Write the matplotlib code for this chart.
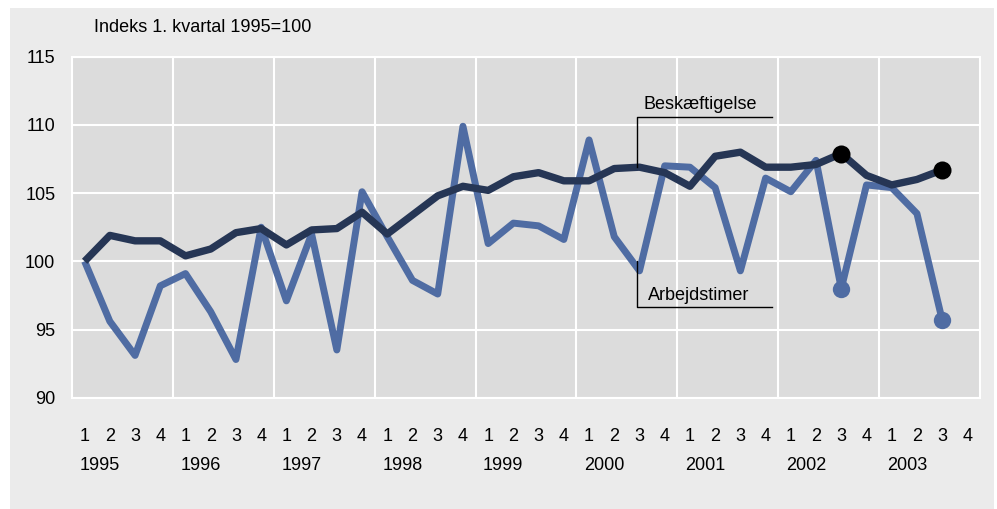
import matplotlib
matplotlib.use("Agg")
import matplotlib.pyplot as plt
from matplotlib.patches import Rectangle
from matplotlib.transforms import blended_transform_factory

plt.rcParams['font.family'] = ['Liberation Sans', 'DejaVu Sans']

# ---- data ----
years = ['1995', '1996', '1997', '1998', '1999', '2000', '2001', '2002', '2003']
quarter_labels = ['1', '2', '3', '4'] * len(years)

beskaeftigelse = [100.0, 101.9, 101.5, 101.5,
                  100.4, 100.9, 102.1, 102.4,
                  101.2, 102.3, 102.4, 103.6,
                  102.0, 103.4, 104.8, 105.5,
                  105.2, 106.2, 106.5, 105.9,
                  105.9, 106.8, 106.9, 106.5,
                  105.5, 107.7, 108.0, 106.9,
                  106.9, 107.1, 107.9, 106.3,
                  105.6, 106.0, 106.7]

arbejdstimer = [100.0, 95.6, 93.1, 98.2,
                99.1, 96.3, 92.8, 102.5,
                97.1, 102.0, 93.5, 105.1,
                101.8, 98.6, 97.6, 109.9,
                101.3, 102.8, 102.6, 101.6,
                108.9, 101.8, 99.3, 107.0,
                106.9, 105.4, 99.3, 106.1,
                105.1, 107.4, 98.0, 105.6,
                105.4, 103.5, 95.7]

highlight_idx = [30, 34]   # 2002 Q3, 2003 Q3
yticks = [90, 95, 100, 105, 110, 115]

title = 'Indeks 1. kvartal 1995=100'
label_b = 'Beskæftigelse'
label_a = 'Arbejdstimer'

# ---- style ----
W, H = 997, 509
fig = plt.figure(figsize=(W / 100, H / 100), dpi=100)
fig.patch.set_facecolor('white')
bg = Rectangle((10 / W, 0), (994 - 10) / W, 1 - 8 / H,
               transform=fig.transFigure, facecolor='#ebebeb',
               edgecolor='none', zorder=-10)
fig.patches.append(bg)

ax = fig.add_axes([72 / W, 1 - 397.7 / H, (980 - 72) / W, (397.7 - 56.7) / H])
ax.set_zorder(5)
ax.set_facecolor('#dcdcdc')

dark = '#263655'
blue = '#4f6ca3'
fs = 13

x = list(range(len(beskaeftigelse)))
ax.plot(x, arbejdstimer, color=blue, lw=5.0, solid_joinstyle='round',
        solid_capstyle='butt', zorder=3)
ax.plot(x, beskaeftigelse, color=dark, lw=5.3, solid_joinstyle='round',
        solid_capstyle='butt', zorder=4)
ax.plot([x[i] for i in highlight_idx], [arbejdstimer[i] for i in highlight_idx],
        'o', color=blue, ms=12.5, zorder=5, mec='none')
ax.plot([x[i] for i in highlight_idx], [beskaeftigelse[i] for i in highlight_idx],
        'o', color='black', ms=13, zorder=6, mec='none')

ax.set_xlim(-0.5, len(quarter_labels) - 0.5)
ax.set_ylim(90, 115)
ax.set_yticks(yticks)
ax.set_yticklabels([str(v) for v in yticks], fontsize=fs)
ax.set_xticks(range(len(quarter_labels)))
ax.set_xticklabels(quarter_labels, fontsize=fs)
ax.set_xticks([4 * k - 0.5 for k in range(1, len(years))], minor=True)
ax.tick_params(axis='x', which='both', length=0, pad=22)
ax.tick_params(axis='y', length=0, pad=12)

ax.set_axisbelow(True)
ax.grid(axis='y', which='major', color='white', lw=1.5, zorder=1)
ax.grid(axis='x', which='minor', color='white', lw=1.5, zorder=1)
ax.grid(axis='x', which='major', visible=False)
for s in ax.spines.values():
    s.set_color('white')
    s.set_linewidth(1.5)

trans = blended_transform_factory(ax.transData, fig.transFigure)
for k, yr in enumerate(years):
    ax.text(4 * k + 0.6, 1 - 466 / H, yr, transform=trans, ha='center',
            va='center', fontsize=fs, clip_on=False)

fig.text(94 / W, 1 - 27 / H, title, ha='left', va='center', fontsize=fs)

# annotations (brackets)
xb = 21.9
xe = 27.24
ax.plot([xb, xb, xe], [beskaeftigelse[22], 110.6, 110.6], color='black', lw=1.0,
        zorder=7, clip_on=False)
ax.text(xb + 0.25, 110.85, label_b, ha='left', va='bottom', fontsize=fs, zorder=7)
ax.plot([xb, xb, xe], [100.0, 96.66, 96.66], color='black', lw=1.0,
        zorder=7, clip_on=False)
ax.text(xb + 0.45, 96.9, label_a, ha='left', va='bottom', fontsize=fs, zorder=7)

fig.savefig('out.png', dpi=100, facecolor=fig.get_facecolor())
